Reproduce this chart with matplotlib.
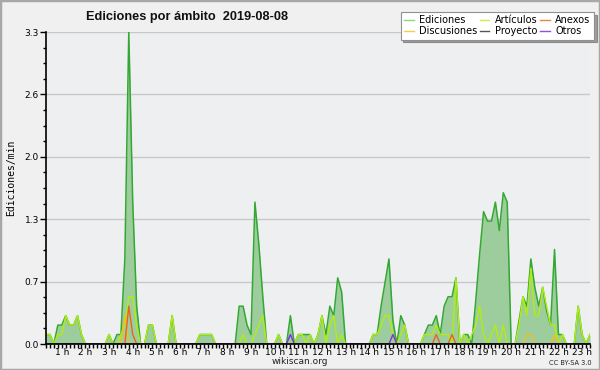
import numpy as np
import matplotlib
matplotlib.use('Agg')
import matplotlib.pyplot as plt
from matplotlib.patches import Rectangle
from matplotlib.lines import Line2D

plt.rcParams['font.family'] = ['DejaVu Sans']

# 10-minute bins, from 0:20 to 23:20
minutes = np.arange(20, 1401, 10)
hours = minutes / 60.0

ediciones = [
    0.1, 0.1, 0.0, 0.2,                       # 0h (from 0:20)
    0.2, 0.3, 0.2, 0.2, 0.3, 0.1,             # 1h
    0.0, 0.0, 0.0, 0.0, 0.0, 0.0,             # 2h
    0.1, 0.0, 0.1, 0.1, 0.9, 3.3,             # 3h
    1.5, 0.4, 0.0, 0.0, 0.2, 0.2,             # 4h
    0.0, 0.0, 0.0, 0.0, 0.3, 0.0,             # 5h
    0.0, 0.0, 0.0, 0.0, 0.0, 0.1,             # 6h
    0.1, 0.1, 0.1, 0.0, 0.0, 0.0,             # 7h
    0.0, 0.0, 0.0, 0.4, 0.4, 0.2,             # 8h
    0.1, 1.5, 1.05, 0.5, 0.0, 0.0,            # 9h
    0.0, 0.1, 0.0, 0.0, 0.3, 0.0,             # 10h
    0.1, 0.1, 0.1, 0.1, 0.0, 0.1,             # 11h
    0.3, 0.1, 0.4, 0.3, 0.7, 0.55,            # 12h
    0.0, 0.0, 0.0, 0.0, 0.0, 0.0,             # 13h
    0.0, 0.1, 0.1, 0.4, 0.65, 0.9,            # 14h
    0.25, 0.0, 0.3, 0.2, 0.0, 0.0,            # 15h
    0.0, 0.0, 0.1, 0.2, 0.2, 0.3,             # 16h
    0.1, 0.4, 0.5, 0.5, 0.7, 0.0,             # 17h
    0.1, 0.1, 0.0, 0.45, 0.95, 1.4,           # 18h
    1.3, 1.3, 1.5, 1.2, 1.6, 1.5,             # 19h
    0.0, 0.0, 0.25, 0.5, 0.4, 0.9,            # 20h
    0.6, 0.4, 0.6, 0.35, 0.2, 1.0,            # 21h
    0.1, 0.1, 0.0, 0.0, 0.0, 0.4,             # 22h
    0.1, 0.0, 0.1,                            # 23h
]

articulos = [
    0.1, 0.1, 0.0, 0.1,
    0.1, 0.3, 0.2, 0.2, 0.3, 0.1,
    0.0, 0.0, 0.0, 0.0, 0.0, 0.0,
    0.1, 0.0, 0.0, 0.1, 0.2, 0.5,
    0.5, 0.2, 0.0, 0.0, 0.2, 0.2,
    0.0, 0.0, 0.0, 0.0, 0.3, 0.0,
    0.0, 0.0, 0.0, 0.0, 0.0, 0.1,
    0.1, 0.1, 0.1, 0.0, 0.0, 0.0,
    0.0, 0.0, 0.0, 0.0, 0.1, 0.0,
    0.0, 0.1, 0.2, 0.3, 0.0, 0.0,
    0.0, 0.1, 0.0, 0.0, 0.0, 0.0,
    0.1, 0.1, 0.0, 0.1, 0.0, 0.1,
    0.3, 0.0, 0.2, 0.3, 0.0, 0.1,
    0.0, 0.0, 0.0, 0.0, 0.0, 0.0,
    0.0, 0.1, 0.1, 0.2, 0.3, 0.3,
    0.1, 0.0, 0.1, 0.2, 0.0, 0.0,
    0.0, 0.0, 0.1, 0.1, 0.1, 0.2,
    0.1, 0.1, 0.1, 0.0, 0.7, 0.0,
    0.1, 0.0, 0.1, 0.2, 0.4, 0.1,
    0.0, 0.1, 0.2, 0.0, 0.2, 0.0,
    0.0, 0.0, 0.2, 0.5, 0.3, 0.8,
    0.3, 0.3, 0.6, 0.4, 0.2, 0.2,
    0.0, 0.1, 0.0, 0.0, 0.0, 0.4,
    0.1, 0.0, 0.1,
]

# sparse series: {bin time (h, min): value}
anexos_pts = {(3, 50): 0.4, (4, 0): 0.1, (16, 50): 0.1, (17, 30): 0.1}
discusiones_pts = {(3, 40): 0.3, (20, 40): 0.1, (20, 50): 0.1, (21, 50): 0.1}
otros_pts = {(10, 40): 0.1, (15, 0): 0.1}
proyecto_pts = {}


def sparse(pts):
    vals = np.zeros(len(minutes))
    for (h, m), v in pts.items():
        vals[list(minutes).index(h * 60 + m)] = v
    return vals


anexos = sparse(anexos_pts)
discusiones = sparse(discusiones_pts)
otros = sparse(otros_pts)
proyecto = sparse(proyecto_pts)

fig = plt.figure(figsize=(6, 3.7), dpi=100, facecolor='#f0f0f0')
fig.patches.append(Rectangle((0, 0), 1, 1, transform=fig.transFigure,
                             fill=False, edgecolor='#a8a8a8', linewidth=2.5))
ax = fig.add_axes([46 / 600, 26 / 370, 544 / 600, 312 / 370])
ax.set_facecolor('#eeeff0')

ax.fill_between(hours, 0, ediciones, color='#9dcd9d', linewidth=0)
ax.plot(hours, ediciones, color='#33a833', linewidth=1.1)
ax.plot(hours, articulos, color='#b0ee10', linewidth=1.0)
ax.plot(hours, proyecto, color='#555555', linewidth=1.0)
ax.plot(hours, discusiones, color='#f0c020', linewidth=1.0)
ax.plot(hours, anexos, color='#f06020', linewidth=1.0)
ax.plot(hours, otros, color='#8030e0', linewidth=1.0)

ymax = 3.3
ax.set_ylim(0, ymax)
ax.set_xlim(hours[0], hours[-1])
yt = np.linspace(0, ymax, 6)
ax.set_yticks(yt)
ax.set_yticklabels([f'{v:.1f}' for v in yt])
ax.set_yticks(np.linspace(0, ymax, 21), minor=True)
ax.yaxis.grid(True, which='major', color='#c8c8c8', linewidth=1)
ax.set_axisbelow(True)

hour_ticks = np.arange(1, 24)
ax.set_xticks(hour_ticks)
ax.set_xticklabels([f'{h} h' for h in hour_ticks])
ax.set_xticks(minutes / 60.0, minor=True)

for s in ['top', 'right']:
    ax.spines[s].set_visible(False)
ax.spines['left'].set_linewidth(1.2)
ax.spines['bottom'].set_linewidth(1.2)
ax.tick_params(axis='x', which='major', labelsize=6.5, length=2.8, width=1, pad=0.3)
ax.tick_params(axis='y', which='major', labelsize=6.5, length=4, width=1, pad=1)
ax.tick_params(axis='x', which='minor', length=2.8, width=1)
ax.tick_params(axis='y', which='minor', length=2.5, width=1)

fig.text(0.312, 0.955, 'Ediciones por ámbito  2019-08-08', ha='center', va='center',
         fontsize=9.2, fontweight='bold', color='#111111', family='Liberation Sans')
fig.text(0.018, 0.52, 'Ediciones/min', rotation=90, ha='center', va='center',
         fontsize=7, family='DejaVu Sans Mono')
fig.text(0.5, 0.022, 'wikiscan.org', ha='center', va='center', fontsize=6.5, color='#222222')
fig.text(0.951, 0.02, 'CC BY-SA 3.0', ha='center', va='center', fontsize=4.8, color='#222222')

handles = [
    Line2D([], [], color='#88d888', lw=1), Line2D([], [], color='#f0d050', lw=1),
    Line2D([], [], color='#c8f050', lw=1), Line2D([], [], color='#555555', lw=1),
    Line2D([], [], color='#f08050', lw=1), Line2D([], [], color='#9050e0', lw=1),
]
labels = ['Ediciones', 'Discusiones', 'Artículos', 'Proyecto', 'Anexos', 'Otros']
leg = fig.legend(handles, labels, ncol=3, loc='upper right', bbox_to_anchor=(0.99, 0.968),
                 fontsize=7.0, frameon=True, fancybox=False, shadow=True, framealpha=1,
                 edgecolor='#909090', handlelength=1.0, handletextpad=0.6,
                 columnspacing=0.2, labelspacing=0.1, borderpad=0.35, borderaxespad=0.0)
leg.get_frame().set_linewidth(0.8)

fig.savefig('out.png', dpi=100, facecolor=fig.get_facecolor())
